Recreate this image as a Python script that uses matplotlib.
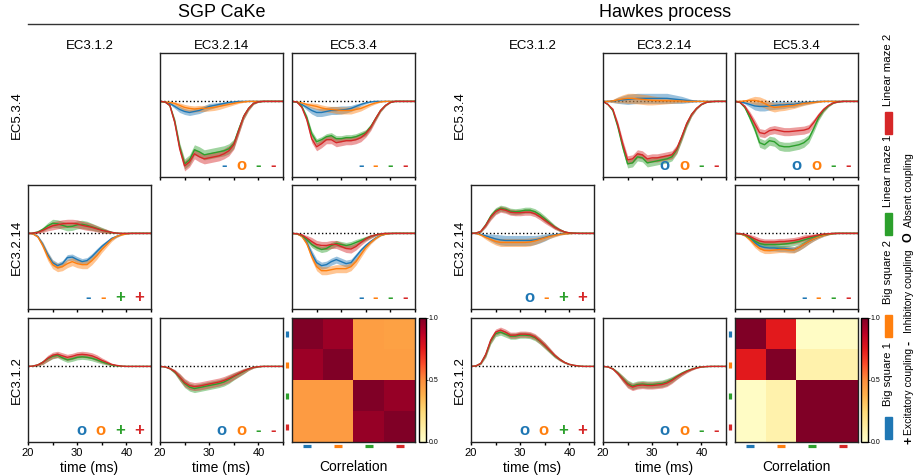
import numpy as np
import matplotlib
matplotlib.use('Agg')
import matplotlib.pyplot as plt
from matplotlib.lines import Line2D
from matplotlib.patches import Rectangle
from matplotlib.offsetbox import AnchoredOffsetbox, HPacker, TextArea
from matplotlib.transforms import blended_transform_factory

plt.rcParams['font.family'] = ['Liberation Sans', 'DejaVu Sans']

# ---- data -------------------------------------------------------------
time_ms = list(range(20, 46))
sources = ['EC3.1.2', 'EC3.2.14', 'EC5.3.4']    # columns
targets = ['EC5.3.4', 'EC3.2.14', 'EC3.1.2']    # rows
sessions = ['Big square 1', 'Big square 2', 'Linear maze 1', 'Linear maze 2']
colors = ['#1f77b4', '#ff7f0e', '#2ca02c', '#d62728']

# filters (a.u.), one list per session: big sq 1, big sq 2, lin maze 1, lin maze 2
sgp_534_3214_mean = [
    [0, -0.5, -2, -5, -8, -10, -11, -10, -9, -7, -5, -4, -3, -2, -1, -0.5, 0, 0, 0, 0, 0, 0, 0, 0, 0, 0],
    [0, -0.5, -1, -2, -4, -6, -7, -7.5, -7, -7, -6.5, -6, -5, -4, -3, -2, -1, -0.5, 0, 0, 0, 0, 0, 0, 0, 0],
    [0, -0.5, -4, -20, -45, -62, -58, -48, -50, -53, -52, -51, -50, -49, -47, -42, -28, -15, -7, -2, -0.5, 0, 0, 0, 0, 0],
    [0, -0.5, -4, -21, -47, -64, -60, -52, -55, -57, -56, -55, -54, -52, -49, -43, -29, -15, -7, -2, -0.5, 0, 0, 0, 0, 0]]
sgp_534_3214_sd = [
    [0, 0.3, 1, 2, 3, 3, 3, 3, 3, 3, 3, 2.5, 2, 1.5, 1, 0.5, 0.2, 0, 0, 0, 0, 0, 0, 0, 0, 0],
    [0, 0.2, 0.6, 1.5, 2.5, 3, 3, 3, 3, 3, 3, 3, 3, 2.5, 2, 1.5, 1, 0.5, 0.2, 0, 0, 0, 0, 0, 0, 0],
    [0, 0.2, 1, 3, 4, 5, 5, 5, 5, 5, 5, 5, 5, 5, 5, 4.5, 4, 3, 2, 1, 0.3, 0, 0, 0, 0, 0],
    [0, 0.2, 1, 3, 4, 5, 5, 5, 5, 5, 5, 5, 5, 5, 5, 4.5, 4, 3, 2, 1, 0.3, 0, 0, 0, 0, 0]]
sgp_534_3214_sym = ['-', 'o', '-', '-']

sgp_534_534_mean = [
    [0, -1, -3, -6, -9, -11, -11, -10, -9, -9, -8.5, -8, -7, -5, -3, -1.5, -0.5, 0, 0, 0, 0, 0, 0, 0, 0, 0],
    [0, -0.5, -1.5, -3, -4, -5, -6.5, -7.5, -8, -8.5, -9, -9, -9, -8, -7, -5, -3, -1.5, -0.5, 0, 0, 0, 0, 0, 0, 0],
    [0, -0.5, -5, -16, -32, -40, -38, -35, -34, -37, -37, -36, -36, -35, -33, -31, -25, -17, -9, -4, -1, 0, 0, 0, 0, 0],
    [0, -0.5, -6, -18, -37, -45, -42, -38, -38, -41, -40, -39, -39, -38, -36, -32, -26, -17, -9, -4, -1, 0, 0, 0, 0, 0]]
sgp_534_534_sd = [
    [0, 0.3, 1, 2.5, 3.5, 4, 4, 4, 4, 4, 4, 3.5, 3, 2.5, 1.5, 1, 0.3, 0, 0, 0, 0, 0, 0, 0, 0, 0],
    [0, 0.2, 0.6, 1.5, 2.5, 3, 3, 3, 3, 3.5, 3.5, 3.5, 3.5, 3, 2.5, 2, 1.5, 1, 0.3, 0, 0, 0, 0, 0, 0, 0],
    [0, 0.2, 1, 2.5, 3, 3, 3, 3, 3, 3, 3, 3, 3, 3, 3, 3, 2.5, 2, 1.5, 0.8, 0.3, 0, 0, 0, 0, 0],
    [0, 0.2, 1, 3, 4, 4, 4, 4, 4, 4, 4, 4, 4, 4, 4, 3.5, 3, 2.5, 1.5, 0.8, 0.3, 0, 0, 0, 0, 0]]
sgp_534_534_sym = ['-', '-', '-', '-']

sgp_3214_312_mean = [
    [0, -0.5, -3, -11, -21, -29, -32, -30, -24, -23.5, -26, -28, -27, -23, -18, -13, -9, -5, -3, -1, -0.3, 0, 0, 0, 0, 0],
    [0, -0.5, -3.5, -12, -23, -31, -34, -33, -30, -28, -30, -31, -31, -27, -22, -16, -11, -6, -3, -1.5, -0.5, 0, 0, 0, 0, 0],
    [0, 0.3, 1.5, 4, 7.5, 10, 9.5, 8, 6.5, 7, 8.5, 9, 8, 6.5, 5, 3.5, 2, 1, 0.3, 0, 0, 0, 0, 0, 0, 0],
    [0, 0.3, 1, 3, 5.5, 7.5, 8.5, 9.5, 10, 10, 9.5, 8, 7, 6, 4.5, 3, 2, 1, 0.3, 0, 0, 0, 0, 0, 0, 0]]
sgp_3214_312_sd = [
    [0, 0.2, 1, 2.5, 3, 3, 3, 3, 3, 3, 3, 3, 3, 3, 3, 2.5, 2, 1.5, 1, 0.5, 0.2, 0, 0, 0, 0, 0],
    [0, 0.2, 1, 3, 4, 4, 4, 4, 4, 4, 4, 4, 4, 4, 3.5, 3, 2.5, 2, 1, 0.5, 0.2, 0, 0, 0, 0, 0],
    [0, 0.3, 1, 2, 3, 4, 4, 4, 4, 4, 4, 4, 4, 3.5, 3, 2.5, 2, 1, 0.5, 0.2, 0, 0, 0, 0, 0, 0],
    [0, 0.3, 1, 2, 3, 4, 4, 4, 4, 4, 4, 4, 4, 3.5, 3, 2.5, 2, 1, 0.5, 0.2, 0, 0, 0, 0, 0, 0]]
sgp_3214_312_sym = ['-', '-', '+', '+']

sgp_3214_534_mean = [
    [0, -0.5, -2.5, -9, -20, -29, -32, -31, -28, -26, -28, -30, -29, -23, -17, -12, -8, -4.5, -2, -0.7, -0.2, 0, 0, 0, 0, 0],
    [0, -0.5, -3, -10, -23, -33, -37, -37, -36, -35, -35, -35, -33, -28, -21, -14, -9, -5, -2, -0.8, -0.2, 0, 0, 0, 0, 0],
    [0, -0.3, -2, -6, -11, -14, -16, -15, -12, -10, -11, -12, -11, -9, -7, -5, -3, -1.5, -0.5, 0, 0, 0, 0, 0, 0, 0],
    [0, -0.3, -1.5, -4.5, -8, -11, -12, -12, -11, -11, -13, -15, -15.5, -13, -9, -5.5, -3, -1.5, -0.5, 0, 0, 0, 0, 0, 0, 0]]
sgp_3214_534_sd = [
    [0, 0.2, 1, 2.5, 3.5, 3.5, 3.5, 3.5, 3.5, 3.5, 3.5, 3.5, 3.5, 3, 2.5, 2, 1.5, 1, 0.5, 0.2, 0, 0, 0, 0, 0, 0],
    [0, 0.2, 1, 2.5, 3.5, 4, 4, 4, 4, 4, 4, 4, 4, 3.5, 3, 2.5, 1.5, 1, 0.5, 0.2, 0, 0, 0, 0, 0, 0],
    [0, 0.2, 0.8, 2, 3, 3, 3, 3, 3, 3, 3, 3, 3, 3, 2.5, 2, 1.5, 1, 0.4, 0, 0, 0, 0, 0, 0, 0],
    [0, 0.2, 1, 2.5, 4, 4, 4, 4, 4, 4, 4, 4, 4, 3.5, 3, 2.5, 2, 1, 0.4, 0, 0, 0, 0, 0, 0, 0]]
sgp_3214_534_sym = ['-', '-', '-', '-']

sgp_312_312_mean = [
    None,
    None,
    [0, 0.3, 1.5, 4, 7.5, 10, 11, 8.5, 6.5, 7.5, 9, 9.5, 9, 8, 6.5, 4.5, 3, 1.5, 0.7, 0.2, 0, 0, 0, 0, 0, 0],
    [0, 0.3, 1.5, 4, 8, 11, 12, 10.5, 9, 10, 11.5, 12, 11.5, 10.5, 8.5, 6, 4, 2, 1, 0.3, 0, 0, 0, 0, 0, 0]]
sgp_312_312_sd = [
    None,
    None,
    [0, 0.2, 1, 2, 2.5, 2.5, 2.5, 2.5, 2.5, 2.5, 2.5, 2.5, 2.5, 2.5, 2.5, 2, 1.5, 1, 0.5, 0.2, 0, 0, 0, 0, 0, 0],
    [0, 0.2, 1, 2, 3, 3, 3, 3, 3, 3, 3, 3, 3, 3, 3, 2.5, 2, 1, 0.5, 0.2, 0, 0, 0, 0, 0, 0]]
sgp_312_312_sym = ['o', 'o', '+', '+']

sgp_312_3214_mean = [
    None,
    None,
    [0, -0.5, -2, -5.5, -11, -17, -20.5, -22, -21, -20, -19, -18, -17, -15.5, -13, -10, -7.5, -5, -2.5, -1, -0.3, 0, 0, 0, 0, 0],
    [0, -0.5, -2, -5, -10.5, -16, -19, -20, -19.5, -18.5, -17.5, -16.5, -15.5, -14, -12, -9.5, -7, -4.5, -2.5, -1, -0.3, 0, 0, 0, 0, 0]]
sgp_312_3214_sd = [
    None,
    None,
    [0, 0.2, 1, 2, 3.5, 4, 4, 4, 4, 4, 4, 4, 4, 4, 4, 3.5, 3, 2.5, 1.5, 0.8, 0.3, 0, 0, 0, 0, 0],
    [0, 0.2, 1, 2, 3.5, 4, 4, 4, 4, 4, 4, 4, 4, 4, 4, 3.5, 3, 2.5, 1.5, 0.8, 0.3, 0, 0, 0, 0, 0]]
sgp_312_3214_sym = ['o', 'o', '-', '-']

hk_534_3214_mean = [
    [0, 0, 0.3, 1, 1.5, 2, 2.5, 3, 3, 3, 3, 3, 3, 3, 2.5, 2, 1.5, 1, 0.5, 0.2, 0, 0, 0, 0, 0, 0],
    [0, 0, 0.5, 1.5, 2.5, 3, 3, 2.5, 2, 1.5, 1, 0.8, 0.7, 0.6, 0.5, 0.5, 0.3, 0, 0, 0, 0, 0, 0, 0, 0, 0],
    [0, -3, -9, -25, -45, -62, -61, -55, -56, -61, -60, -59, -58, -57, -55, -48, -36, -23, -13, -7, -3, -1, -0.3, 0, 0, 0],
    [0, -3, -8, -23, -42, -58, -57, -52, -53, -57, -56, -56, -55, -54, -53, -47, -35, -22, -13, -7, -3, -1, -0.3, 0, 0, 0]]
hk_534_3214_sd = [
    [0, 0.5, 1.5, 3, 4, 5, 5, 5, 5, 5, 5, 5, 5, 5, 4.5, 4, 3.5, 2.5, 1.5, 0.8, 0.3, 0, 0, 0, 0, 0],
    [0, 0.5, 1.5, 3, 4, 5, 5, 5, 5, 5, 4.5, 4, 3.5, 3, 2.5, 2, 1.5, 1, 0.5, 0.2, 0, 0, 0, 0, 0, 0],
    [0, 0.5, 1.5, 3, 4, 4, 4, 4, 4, 4, 4, 4, 4, 4, 4, 4, 3.5, 3, 2, 1, 0.5, 0.2, 0, 0, 0, 0],
    [0, 0.5, 1.5, 3, 4, 4, 4, 4, 4, 4, 4, 4, 4, 4, 4, 4, 3.5, 3, 2, 1, 0.5, 0.2, 0, 0, 0, 0]]
hk_534_3214_sym = ['o', 'o', '-', '-']

hk_534_534_mean = [
    [0, -0.5, -1.5, -3, -4.5, -5, -5, -4.5, -4, -3.5, -3.5, -3, -3, -2, -1.5, -1, -0.5, 0, 0, 0, 0, 0, 0, 0, 0, 0],
    [0, 0, 0.5, 1, 1, 0, -2, -4.5, -6, -5.5, -5, -4.5, -4, -3, -2, -1.5, -1, -0.5, 0, 0, 0, 0, 0, 0, 0, 0],
    [0, -1, -6, -16, -27, -41, -43, -39, -40, -44, -45, -45, -44, -43, -41, -37, -27, -16, -9, -4.5, -1.5, -0.5, 0, 0, 0, 0],
    [0, -1, -5, -13, -22, -31, -32, -29, -28, -29, -30, -30, -29.5, -29, -28.5, -27, -21, -14, -8, -4, -1.5, -0.5, 0, 0, 0, 0]]
hk_534_534_sd = [
    [0, 0.3, 1, 2.5, 4, 4.5, 4.5, 4, 4, 4, 3.5, 3, 3, 2.5, 2, 1.5, 1, 0.5, 0.2, 0, 0, 0, 0, 0, 0, 0],
    [0, 0.3, 1, 2.5, 4, 4.5, 4.5, 4.5, 4.5, 4, 4, 3.5, 3, 2.5, 2, 1.5, 1, 0.5, 0.2, 0, 0, 0, 0, 0, 0, 0],
    [0, 0.3, 1.5, 3, 4, 4.5, 4.5, 4.5, 4.5, 4.5, 4.5, 4.5, 4.5, 4.5, 4.5, 4, 3.5, 3, 2, 1, 0.5, 0.2, 0, 0, 0, 0],
    [0, 0.3, 1.5, 3, 4, 4, 4, 4, 4, 4, 4, 4, 4, 4, 4, 4, 3.5, 3, 2, 1, 0.5, 0.2, 0, 0, 0, 0]]
hk_534_534_sym = ['o', 'o', '-', '-']

hk_3214_312_mean = [
    [0, 0, -1, -2.5, -4, -5.5, -6.5, -7, -7, -7, -7, -7, -7, -6.5, -5.5, -4, -2.5, -1.5, -0.7, -0.2, 0, 0, 0, 0, 0, 0],
    [0, 0, -1.5, -4, -6, -8, -9, -9, -9, -9, -9, -9, -8.5, -7.5, -6, -4.5, -3, -2, -1, -0.5, -0.2, 0, 0, 0, 0, 0],
    [0, 0.3, 2, 8.5, 17, 22.5, 25, 24, 22, 21.5, 22, 23, 23, 21.5, 18.5, 14.5, 10.5, 6.5, 3.5, 1.5, 0.5, 0.2, 0, 0, 0, 0],
    [0, 0.3, 2, 8, 16, 21.5, 24, 23, 21, 20.5, 20.5, 21, 21, 19.5, 16.5, 13, 9.5, 6, 3.5, 1.5, 0.5, 0.2, 0, 0, 0, 0]]
hk_3214_312_sd = [
    [0, 0.3, 1, 2, 3.5, 4.5, 5, 5, 5, 5, 5, 5, 5, 4.5, 4, 3.5, 2.5, 1.5, 1, 0.5, 0.2, 0, 0, 0, 0, 0],
    [0, 0.3, 1, 2, 3, 3.5, 4, 4, 4, 4, 4, 4, 4, 3.5, 3, 2.5, 2, 1.5, 1, 0.5, 0.2, 0, 0, 0, 0, 0],
    [0, 0.2, 1, 2, 3, 3, 3, 3, 3, 3, 3, 3, 3, 3, 3, 3, 2.5, 2, 1.5, 1, 0.5, 0.2, 0, 0, 0, 0],
    [0, 0.2, 1, 2, 3, 3, 3, 3, 3, 3, 3, 3, 3, 3, 3, 3, 2.5, 2, 1.5, 1, 0.5, 0.2, 0, 0, 0, 0]]
hk_3214_312_sym = ['o', '-', '+', '+']

hk_3214_534_mean = [
    [0, -0.3, -1.5, -4.5, -9, -12.5, -14, -14.5, -14.5, -15, -15, -15.5, -16, -14, -11, -8, -5.5, -3.5, -2, -1, -0.3, 0, 0, 0, 0, 0],
    [0, -0.5, -2, -6, -11, -15, -17, -17, -16.5, -16, -16, -16.5, -16.5, -14, -11, -8, -5.5, -3.5, -2, -1, -0.3, 0, 0, 0, 0, 0],
    [0, -0.3, -1.5, -4, -7.5, -10, -11, -11, -11, -11, -10.5, -10, -9, -8, -6.5, -5, -3.5, -2, -1, -0.4, 0, 0, 0, 0, 0, 0],
    [0, -0.3, -1, -3, -5.5, -7.5, -8.5, -8.5, -8.5, -8, -8, -7.5, -7, -6, -4.5, -3.5, -2.5, -1.5, -0.7, -0.3, 0, 0, 0, 0, 0, 0]]
hk_3214_534_band = [0, 0.2, 1, 2, 3, 3, 3, 3, 3, 3, 3, 3, 3, 3, 3, 2.5, 2, 1.5, 1, 0.5, 0.2, 0, 0, 0, 0, 0]
hk_3214_534_sd = [hk_3214_534_band] * 4
hk_3214_534_sym = ['-', '-', '-', '-']

hk_312_312_mean = [
    None,
    None,
    [0, 0.5, 3, 11.5, 25, 32.5, 34, 32, 30, 30, 31, 31, 30.5, 28.5, 25, 20.5, 15.5, 10.5, 7, 4, 2, 1, 0.3, 0, 0, 0],
    [0, 0.5, 3, 12, 26, 34, 36, 34, 31, 31, 32, 32, 31.5, 29.5, 25.5, 21, 16, 11, 7, 4, 2, 1, 0.3, 0, 0, 0]]
hk_312_312_band = [0, 0.3, 1, 2.5, 3, 3, 3, 3, 3, 3, 3, 3, 3, 3, 3, 3, 2.5, 2, 1.5, 1, 0.5, 0.2, 0, 0, 0, 0]
hk_312_312_sd = [None, None, hk_312_312_band, hk_312_312_band]
hk_312_312_sym = ['o', 'o', '+', '+']

hk_312_3214_mean = [
    None,
    None,
    [0, -0.5, -2.3, -6.5, -12, -17, -19.5, -18, -17.5, -18, -18, -17.5, -17, -15.5, -13, -10, -7, -4.5, -2.7, -1.3, -0.5, -0.2, 0, 0, 0, 0],
    [0, -0.5, -2.5, -7, -12.5, -18, -20.5, -19, -18.5, -19, -19, -18.5, -18, -16.5, -14, -10.5, -7.5, -5, -3, -1.5, -0.6, -0.2, 0, 0, 0, 0]]
hk_312_3214_band = [0, 0.2, 1, 2, 3, 3.5, 3.5, 3.5, 3.5, 3.5, 3.5, 3.5, 3.5, 3.5, 3, 2.5, 2, 1.5, 1, 0.5, 0.2, 0, 0, 0, 0, 0]
hk_312_3214_sd = [None, None, hk_312_3214_band, hk_312_3214_band]
hk_312_3214_sym = ['o', 'o', '-', '-']

# correlation between sessions
sgp_corr = [[1.00, 0.94, 0.44, 0.43],
            [0.94, 1.00, 0.44, 0.44],
            [0.45, 0.45, 1.00, 0.95],
            [0.45, 0.45, 0.95, 1.00]]
hk_corr = [[1.00, 0.75, 0.02, 0.02],
           [0.75, 1.00, 0.09, 0.09],
           [0.02, 0.09, 1.00, 1.00],
           [0.02, 0.09, 1.00, 1.00]]

# ---- layout (pixels) ---------------------------------------------------
W, H = 914, 475
fig = plt.figure(figsize=(W / 100, H / 100), dpi=100)


def px_axes(x, y, w, h):
    return fig.add_axes([x / W, 1 - (y + h) / H, w / W, h / H])


col_x = {'sgp': [28, 160, 292], 'hk': [471, 603, 735]}
row_y = [53, 185, 318]
PW, PH = 123, 124

panels = {
    'sgp': {(0, 1): (sgp_534_3214_mean, sgp_534_3214_sd, sgp_534_3214_sym),
            (0, 2): (sgp_534_534_mean, sgp_534_534_sd, sgp_534_534_sym),
            (1, 0): (sgp_3214_312_mean, sgp_3214_312_sd, sgp_3214_312_sym),
            (1, 2): (sgp_3214_534_mean, sgp_3214_534_sd, sgp_3214_534_sym),
            (2, 0): (sgp_312_312_mean, sgp_312_312_sd, sgp_312_312_sym),
            (2, 1): (sgp_312_3214_mean, sgp_312_3214_sd, sgp_312_3214_sym)},
    'hk': {(0, 1): (hk_534_3214_mean, hk_534_3214_sd, hk_534_3214_sym),
           (0, 2): (hk_534_534_mean, hk_534_534_sd, hk_534_534_sym),
           (1, 0): (hk_3214_312_mean, hk_3214_312_sd, hk_3214_312_sym),
           (1, 2): (hk_3214_534_mean, hk_3214_534_sd, hk_3214_534_sym),
           (2, 0): (hk_312_312_mean, hk_312_312_sd, hk_312_312_sym),
           (2, 1): (hk_312_3214_mean, hk_312_3214_sd, hk_312_3214_sym)},
}
corrs = {'sgp': sgp_corr, 'hk': hk_corr}
cbar_x = {'sgp': 419, 'hk': 861}

t = np.array(time_ms)


def draw_filters(ax, means, sds, syms, bottom):
    ax.axhline(0, color='k', ls=':', lw=1, zorder=0.5)
    for m, s, c in zip(means, sds, colors):
        if m is None:
            continue
        m, s = np.array(m), np.array(s)
        ax.fill_between(t, m - s, m + s, color=c, alpha=0.45, lw=0)
        ax.plot(t, m, color=c, lw=1)
    ax.set_xlim(20, 45)
    ax.set_ylim(-75, 48)
    ax.set_yticks([])
    ax.set_xticks([20, 25, 30, 35, 40, 45])
    if bottom:
        ax.set_xticklabels(['20', '', '30', '', '40', ''])
        ax.set_xlabel('time (ms)', fontsize=10, labelpad=2)
    else:
        ax.set_xticklabels([])
    ax.tick_params(axis='x', direction='out', length=2.5, width=1, pad=2, labelsize=8)
    # coupling type of each session, bottom right
    boxes = [TextArea(s, textprops=dict(color=c, fontsize=12, fontweight='bold'))
             for s, c in zip(syms, colors)]
    pack = HPacker(children=boxes, sep=6.6, pad=0, align='baseline')
    ab = AnchoredOffsetbox(loc='lower right', child=pack, frameon=False, pad=0, borderpad=0,
                           bbox_to_anchor=(0.94, 0.035), bbox_transform=ax.transAxes)
    ax.add_artist(ab)


for grp in ['sgp', 'hk']:
    for r in range(3):
        for c in range(3):
            ax = px_axes(col_x[grp][c], row_y[r], PW, PH)
            for sp in ax.spines.values():
                sp.set_linewidth(1)
                sp.set_color('#222222')
            if r == 0:
                ax.set_title(sources[c], fontsize=9.5, pad=3)
            if c == 0:
                ax.set_ylabel(targets[r], fontsize=9.5)
            if (r, c) == (2, 2):
                im = ax.imshow(np.array(corrs[grp]), cmap='YlOrRd', vmin=0, vmax=1,
                               aspect='auto', interpolation='nearest')
                ax.set_xticks([])
                ax.set_yticks([])
                ax.set_xlabel('Correlation', fontsize=10, labelpad=13)
                tr_left = blended_transform_factory(ax.transAxes, ax.transData)
                tr_bot = blended_transform_factory(ax.transData, ax.transAxes)
                for k, col in enumerate(colors):
                    ax.plot([-0.04], [k], marker='|', ms=4.5, mew=2.3, color=col,
                            transform=tr_left, clip_on=False)
                    ax.plot([k], [-0.035], marker='_', ms=6, mew=2.3, color=col,
                            transform=tr_bot, clip_on=False)
                cax = px_axes(cbar_x[grp], row_y[2], 6.5, PH)
                cb = fig.colorbar(im, cax=cax, ticks=[0, 0.5, 1])
                cb.ax.set_yticklabels(['0.0', '0.5', '1.0'])
                cb.ax.tick_params(labelsize=5, length=1.5, width=0.5, pad=0.5)
                cb.outline.set_linewidth(1)
            elif (r, c) in panels[grp]:
                means, sds, syms = panels[grp][(r, c)]
                draw_filters(ax, means, sds, syms, bottom=(r == 2))
            else:
                ax.set_xticks([])
                ax.set_yticks([])
                for sp in ax.spines.values():
                    sp.set_visible(False)

# group headers
fig.text(221.5 / W, 1 - 12.7 / H, 'SGP CaKe', fontsize=13, ha='center', va='center')
fig.text(665 / W, 1 - 12.7 / H, 'Hawkes process', fontsize=13, ha='center', va='center')
fig.add_artist(Line2D([28 / W, 858 / W], [1 - 24.3 / H] * 2, color='#333333', lw=1))

# legend on the right
leg_y = [374, 272, 171, 70]
patch_y = [417, 315, 213, 112]
for name, col, ty, py in zip(sessions, colors, leg_y, patch_y):
    fig.text(888 / W, 1 - ty / H, name, rotation=90, ha='center', va='center', fontsize=8.2)
    fig.add_artist(Rectangle((885 / W, 1 - (py + 22) / H), 7 / W, 22 / H,
                             color=col, transform=fig.transFigure))

coupling_sym = ['+', '-', 'O']
coupling_txt = ['Excitatory coupling', 'Inhibitory coupling', 'Absent coupling']
sym_y = [440, 343, 237]
txt_y = [391, 291, 190]
for s, txt, sy, ty in zip(coupling_sym, coupling_txt, sym_y, txt_y):
    fig.text(909 / W, 1 - sy / H, s, rotation=90, ha='center', va='center', fontsize=9,
             fontweight='bold')
    fig.text(909 / W, 1 - ty / H, txt, rotation=90, ha='center', va='center', fontsize=7.5)

fig.savefig('out.png', dpi=100)
